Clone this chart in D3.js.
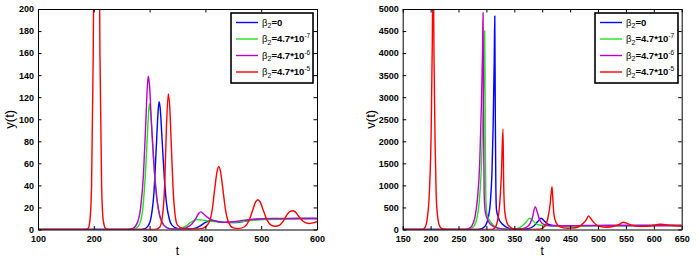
<!DOCTYPE html>
<html>
<head>
<meta charset="utf-8">
<script src="https://cdn.jsdelivr.net/npm/d3@7"></script>
<style>
  body { margin: 0; background: #fff; }
  svg { display: block; font-family: "Liberation Sans", Arial, sans-serif; }
</style>
</head>
<body>
<div id="chart"></div>
<script>
// legend labels: base, exponent
var seriesNames = [ [ "0", null ], [ "4.7*10", "-7" ], [ "4.7*10", "-6" ], [ "4.7*10", "-5" ] ];
var seriesColors = [ "#0000ff", "#22e022", "#bb00cc", "#ff0000" ];

// y(t), left panel  [t, y]
var yBlue = [ [100,0],[280,0],[290,0.5],[297,3],[303,12],[308,35],[312,75],[315,105],[317,116],[319,110],[322,85],
  [326,50],[330,25],[335,10],[340,4],[350,1],[360,0.5],[370,0.5],[380,1],[390,3],[400,6.5],[410,8],[420,7.5],
  [435,6.5],[450,6.3],[470,7.5],[490,9],[510,9.5],[540,9.8],[570,10],[600,10] ];
var yGreen = [ [100,0],[265,0],[275,1],[282,5],[288,20],[293,55],[297,95],[299.5,114],[302,105],[305,80],[309,50],
  [313,27],[318,12],[325,4],[335,1],[345,0.5],[355,1],[365,3],[375,7],[385,9],[395,8.5],[410,7.5],[430,6.5],
  [450,6.5],[470,7.5],[490,8.5],[510,9],[540,9.5],[570,10],[600,10] ];
var yPurple = [ [100,0],[260,0],[270,1],[278,6],[284,20],[289,50],[293,95],[296,130],[297.7,139],[300,130],[303,100],
  [307,65],[311,38],[316,18],[322,7],[330,2],[340,0.5],[355,0.5],[365,1.5],[375,4.5],[383,10],[388,14.5],[392,16],
  [397,14],[405,10.5],[415,8],[430,6.5],[450,7],[470,8.5],[490,9.5],[520,10],[560,10],[600,10] ];
var yRed = [ [100,0],[185,0],[190,1],[193,8],[196,40],[199,160],[202,400],[205,600],[208,400],[211,160],[214,40],
  [217,8],[221,1],[226,0],[310,0],[318,2],[323,12],[327,40],[330,90],[333.5,123],[336,112],[339,75],[342,38],
  [346,12],[350,4],[360,1],[380,0.5],[395,1],[405,5],[412,17],[417,38],[421,53],[424,57],[427,53],[431,38],
  [436,18],[442,6],[450,1.5],[460,1],[470,2.5],[478,8],[485,18],[490,25],[494,27],[498,25],[504,17],[510,9],
  [518,4],[525,3],[533,4],[540,8],[547,14],[552,16.5],[556,17],[561,16],[567,12],[575,7.5],[585,5.5],[593,6],[600,7] ];

// v(t), right panel  [t, v]
var vBlue = [ [150,0],[285,0],[292,20],[298,80],[303,250],[307,600],[310,1300],[312,2300],[314,3800],[315,4841],
  [316,2500],[317,900],[318,450],[322,250],[328,130],[335,60],[345,15],[360,5],[375,20],[385,80],[392,180],
  [398,254],[404,190],[410,120],[420,90],[440,80],[480,85],[520,90],[560,90],[600,90],[650,90] ];
var vGreen = [ [150,0],[265,0],[272,20],[278,80],[283,250],[287,600],[291,1400],[294,2700],[296,3900],[297,4508],
  [298,2000],[299,700],[301,350],[306,200],[312,100],[320,40],[330,10],[345,5],[355,20],[362,60],[370,150],
  [377.6,254],[383,200],[390,120],[400,90],[420,80],[460,80],[520,85],[600,90],[650,90] ];
var vPurple = [ [150,0],[262,0],[268,20],[274,80],[279,250],[284,700],[288,1500],[291,2800],[293,4000],[294,4916],
  [295,2200],[296,800],[298,400],[303,200],[310,90],[320,30],[335,8],[350,5],[365,20],[375,80],[382,250],
  [387.6,517],[391,400],[396,200],[404,110],[415,85],[440,85],[480,90],[520,90],[600,90],[650,90] ];
var vRed = [ [150,0],[185,0],[190,50],[194,250],[198,900],[201,2200],[203,4200],[204.5,6500],[206,4000],[208,2000],
  [210,800],[213,250],[217,60],[222,10],[230,0],[310,0],[316,50],[320,200],[324,600],[327,1300],[329.7,2279],
  [331,1000],[333,400],[337,150],[343,50],[350,10],[365,0],[395,5],[405,80],[410,250],[414,550],[417.6,970],
  [419,700],[421,350],[425,150],[432,60],[445,30],[460,40],[470,100],[478,200],[483.3,306],[487,250],[493,150],
  [503,70],[515,50],[530,80],[540,130],[545,163],[550,150],[560,100],[575,70],[590,75],[600,95],[610.5,118],
  [620,110],[635,90],[650,80] ];

var yTicksX = d3.range( 100, 601, 100 );
var yTicksY = d3.range( 0, 201, 20 );
var vTicksX = d3.range( 150, 651, 50 );
var vTicksY = d3.range( 0, 5001, 500 );

var svg = d3.select( "#chart" ).append( "svg" )
  .attr( "width", 698 ).attr( "height", 261 );
svg.append( "rect" ).attr( "width", 698 ).attr( "height", 261 ).attr( "fill", "#fff" );

function drawPanel( cfg ) {
  var x = d3.scaleLinear().domain( cfg.xDomain ).range( [ cfg.left, cfg.right ] );
  var y = d3.scaleLinear().domain( cfg.yDomain ).range( [ cfg.bottom, cfg.top ] );
  var g = svg.append( "g" );
  var fmt = d3.format( "d" );

  g.append( "clipPath" ).attr( "id", cfg.id + "-clip" )
    .append( "rect" )
    .attr( "x", cfg.left ).attr( "y", cfg.top )
    .attr( "width", cfg.right - cfg.left ).attr( "height", cfg.bottom - cfg.top );

  var line = d3.line()
    .x( function( d ) { return x( d[ 0 ] ); } )
    .y( function( d ) { return y( d[ 1 ] ); } )
    .curve( d3.curveMonotoneX );

  var lines = g.append( "g" ).attr( "clip-path", "url(#" + cfg.id + "-clip)" );
  cfg.series.forEach( function( s, i ) {
    lines.append( "path" )
      .attr( "d", line( s ) )
      .attr( "fill", "none" )
      .attr( "stroke", seriesColors[ i ] )
      .attr( "stroke-width", 1.4 )
      .attr( "stroke-linejoin", "round" );
  } );

  // axes, MATLAB style: box with inward ticks on all sides
  var tick = 3.5;
  g.append( "g" )
    .attr( "transform", "translate(0," + cfg.bottom + ")" )
    .call( d3.axisBottom( x ).tickValues( cfg.xTicks ).tickFormat( fmt ).tickSizeInner( -tick ).tickSizeOuter( 0 ).tickPadding( 6 ) );
  g.append( "g" )
    .attr( "transform", "translate(0," + cfg.top + ")" )
    .call( d3.axisTop( x ).tickValues( cfg.xTicks ).tickSizeInner( -tick ).tickSizeOuter( 0 ).tickFormat( "" ) );
  g.append( "g" )
    .attr( "transform", "translate(" + cfg.left + ",0)" )
    .call( d3.axisLeft( y ).tickValues( cfg.yTicks ).tickFormat( fmt ).tickSizeInner( -tick ).tickSizeOuter( 0 ).tickPadding( 4 ) );
  g.append( "g" )
    .attr( "transform", "translate(" + cfg.right + ",0)" )
    .call( d3.axisRight( y ).tickValues( cfg.yTicks ).tickSizeInner( -tick ).tickSizeOuter( 0 ).tickFormat( "" ) );

  g.selectAll( ".domain" ).attr( "stroke", "#000" ).attr( "stroke-width", 1 );
  g.selectAll( ".tick line" ).attr( "stroke", "#000" );
  g.selectAll( ".tick text" )
    .attr( "fill", "#000" )
    .style( "font-size", "9px" )
    .style( "font-weight", "bold" )
    .style( "font-family", "'Liberation Sans', Arial, sans-serif" );

  // axis titles
  g.append( "text" )
    .attr( "x", ( cfg.left + cfg.right ) / 2 ).attr( "y", 255 )
    .attr( "text-anchor", "middle" )
    .style( "font-size", "12px" )
    .text( "t" );
  g.append( "text" )
    .attr( "transform", "translate(" + cfg.yLabelX + "," + ( ( cfg.top + cfg.bottom ) / 2 ) + ") rotate(-90)" )
    .attr( "text-anchor", "middle" )
    .style( "font-size", "13px" )
    .text( cfg.yLabel );

  // legend
  var lg = g.append( "g" ).attr( "transform", "translate(" + cfg.legend[ 0 ] + "," + cfg.legend[ 1 ] + ")" );
  lg.append( "rect" )
    .attr( "width", cfg.legend[ 2 ] ).attr( "height", cfg.legend[ 3 ] )
    .attr( "fill", "#fff" ).attr( "stroke", "#000" ).attr( "stroke-width", 1.6 );
  seriesNames.forEach( function( n, i ) {
    var yy = 9.5 + i * 16.5;
    lg.append( "line" )
      .attr( "x1", 5 ).attr( "x2", 27 ).attr( "y1", yy ).attr( "y2", yy )
      .attr( "stroke", seriesColors[ i ] ).attr( "stroke-width", 1.4 );
    var t = lg.append( "text" )
      .attr( "x", 31 ).attr( "y", yy + 3 )
      .style( "font-size", "9.5px" );
    t.append( "tspan" ).text( "\u03b2" );
    t.append( "tspan" ).attr( "dy", 2.5 ).style( "font-size", "7px" ).text( "2" );
    t.append( "tspan" ).attr( "dy", -2.5 ).style( "font-weight", "bold" ).text( "=" + n[ 0 ] );
    if( n[ 1 ] ) {
      t.append( "tspan" ).attr( "dy", -4 ).style( "font-size", "6.5px" ).text( n[ 1 ] );
    }
  } );
}

drawPanel( {
  id: "left", xDomain: [ 100, 600 ], yDomain: [ 0, 200 ],
  left: 38, right: 317, top: 9, bottom: 229.5,
  xTicks: yTicksX, yTicks: yTicksY,
  series: [ yBlue, yGreen, yPurple, yRed ],
  yLabel: "y(t)", yLabelX: 14,
  legend: [ 231, 13, 82, 70 ]
} );

drawPanel( {
  id: "right", xDomain: [ 150, 650 ], yDomain: [ 0, 5000 ],
  left: 402.7, right: 681.7, top: 9, bottom: 229.5,
  xTicks: vTicksX, yTicks: vTicksY,
  series: [ vBlue, vGreen, vPurple, vRed ],
  yLabel: "v(t)", yLabelX: 375,
  legend: [ 595, 13, 83, 70 ]
} );
</script>
</body>
</html>
